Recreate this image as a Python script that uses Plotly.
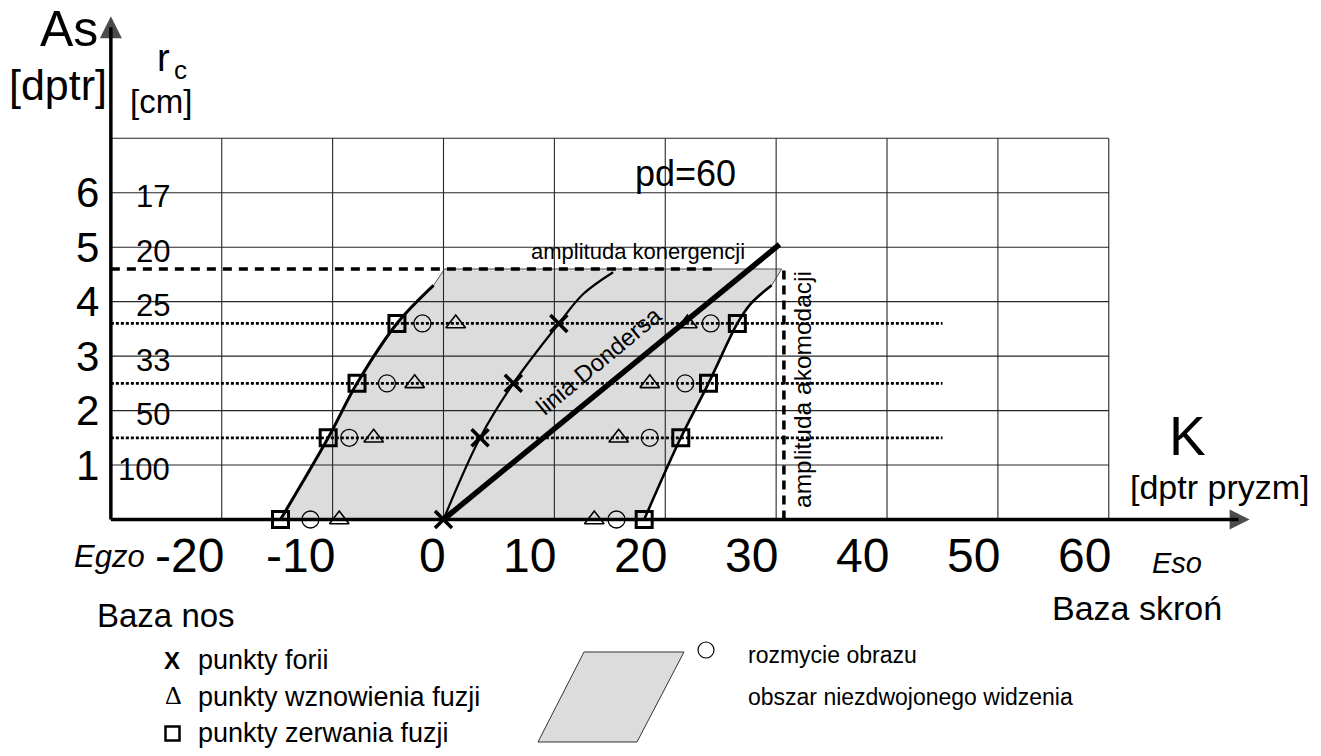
import plotly.graph_objects as go

W, H = 1321, 756
REG = "Liberation Sans, Arial, sans-serif"
SERIF = "Liberation Serif, Times New Roman, serif"

# ---------------- data ----------------
k_ticks = [-20, -10, 0, 10, 20, 30, 40, 50, 60]          # K [dptr pryzm]
as_ticks = [1, 2, 3, 4, 5, 6]                             # As [dptr]
rc_ticks = ["100", "50", "33", "25", "20", "17"]          # r_c [cm]

as_rows = [0, 1.5, 2.5, 3.6]                              # measured accommodation levels
phoria_k = [0, 3.3, 6.3, 10.4]                            # punkty forii
bi_recovery_k = [-9.4, -6.3, -2.6, 1.1]                   # wznowienie fuzji (baza nos)
bi_blur_k = [-12.0, -8.5, -5.1, -1.9]                     # rozmycie (baza nos)
bi_break_k = [-14.7, -10.4, -7.8, -4.2]                   # zerwanie fuzji (baza nos)
bo_recovery_k = [13.6, 15.8, 18.6, 22.0]                  # wznowienie fuzji (baza skron)
bo_blur_k = [15.6, 18.6, 21.8, 24.1]                      # rozmycie (baza skron)
bo_break_k = [18.1, 21.4, 23.9, 26.5]                     # zerwanie fuzji (baza skron)

# curve continuations above the highest measured level
bi_ext_k, bi_ext_as = [-0.9], [4.3]
phoria_ext_k, phoria_ext_as = [12.6, 15.3], [4.14, 4.54]
bo_ext_k, bo_ext_as = [27.7, 29.6], [3.96, 4.3]

amp_accommodation = 4.6        # amplituda akomodacji [dptr]
amp_convergence = 30.7         # amplituda konwergencji [dptr pryzm]
zone_top_k = [0.1, 30.5]
donders_k = [0, 30.3]          # linia Dondersa, pd = 60
donders_as = [0, 5.05]

# ---------------- scales ----------------
PX_PER_K, K0_PX = 11.088, 443.5
PX_PER_AS, AS0_PX = 54.46, 519.5
x_range = [-K0_PX / PX_PER_K, (W - K0_PX) / PX_PER_K]
y_range = [-(H - AS0_PX) / PX_PER_AS, AS0_PX / PX_PER_AS]
K_LEFT, K_RIGHT, AS_TOP = -30, 60, 7
K_ARROW, AS_ARROW = 72.7, 9.24

fig = go.Figure()

# binocular single vision zone
zx = bi_break_k + bi_ext_k + zone_top_k + bo_ext_k[::-1] + bo_break_k[::-1]
zy = as_rows + bi_ext_as + [amp_accommodation] * 2 + bo_ext_as[::-1] + as_rows[::-1]
fig.add_trace(go.Scatter(x=zx, y=zy, fill="toself", fillcolor="#dcdcdc", mode="lines",
                         line=dict(color="#555555", width=1)))

# grid
gx, gy = [], []
for k in k_ticks:
    gx += [k, k, None]
    gy += [0, AS_TOP, None]
for a in as_ticks + [AS_TOP]:
    gx += [K_LEFT, K_RIGHT, None]
    gy += [a, a, None]
fig.add_trace(go.Scatter(x=gx, y=gy, mode="lines", line=dict(color="#262626", width=1.1)))

# dotted measurement rows
dx, dy = [], []
for a in as_rows[1:]:
    dx += [K_LEFT, 45, None]
    dy += [a, a, None]
fig.add_trace(go.Scatter(x=dx, y=dy, mode="lines",
                         line=dict(color="black", width=2.8, dash="3px,2px")))

# amplitude of accommodation / convergence
fig.add_trace(go.Scatter(x=[K_LEFT, 24.7], y=[amp_accommodation] * 2, mode="lines",
                         line=dict(color="black", width=3.5, dash="9px,7px")))
fig.add_trace(go.Scatter(x=[amp_convergence] * 2, y=[0, amp_accommodation - 0.03], mode="lines",
                         line=dict(color="black", width=3.5, dash="9px,6px")))

# fusion-limit and phoria curves
fig.add_trace(go.Scatter(x=bi_break_k + bi_ext_k, y=as_rows + bi_ext_as, mode="lines",
                         line=dict(color="black", width=3, shape="spline")))
fig.add_trace(go.Scatter(x=phoria_k + phoria_ext_k, y=as_rows + phoria_ext_as, mode="lines",
                         line=dict(color="black", width=2.2, shape="spline")))
fig.add_trace(go.Scatter(x=bo_break_k + bo_ext_k, y=as_rows + bo_ext_as, mode="lines",
                         line=dict(color="black", width=2.6, shape="spline")))
fig.add_trace(go.Scatter(x=donders_k, y=donders_as, mode="lines",
                         line=dict(color="black", width=5.5)))

# axes: shafts stop short of the tips so the arrowheads stay pointed
fig.add_trace(go.Scatter(x=[K_LEFT, K_LEFT, None, K_LEFT, K_ARROW - 1.0],
                         y=[0, AS_ARROW - 0.2, None, 0, 0], mode="lines",
                         line=dict(color="black", width=3.5)))
fig.add_trace(go.Scatter(x=[K_LEFT, K_ARROW], y=[AS_ARROW, 0], mode="markers", cliponaxis=False,
                         marker=dict(symbol=["arrow-up", "arrow-right"], size=[22, 20],
                                     color="black", line=dict(width=0))))


# measured points
def pts(xs, symbol, size, lw):
    fig.add_trace(go.Scatter(x=xs, y=as_rows, mode="markers", cliponaxis=False,
                             marker=dict(symbol=symbol, size=size, color="black",
                                         line=dict(color="black", width=lw))))


pts(bi_break_k, "square-open", 16, 3)
pts(bo_break_k, "square-open", 16, 3)
pts(bi_blur_k, "circle-open", 17, 1.3)
pts(bo_blur_k, "circle-open", 17, 1.3)
pts(bi_recovery_k, "triangle-up-open", 17, 1.6)
pts(bo_recovery_k, "triangle-up-open", 17, 1.6)
pts(phoria_k, "x-thin", 17, 3.6)

ann = []


def note(text, xpx, ypx, size, family=REG, xanchor="center", yanchor="middle", **kw):
    ann.append(dict(text=text, x=xpx / W, y=1 - ypx / H, xref="paper", yref="paper",
                    showarrow=False, xanchor=xanchor, yanchor=yanchor,
                    font=dict(family=family, size=size, color="black"), **kw))


# tick labels
for a in as_ticks:
    ann.append(dict(text=str(a), x=K_LEFT, y=a, xref="x", yref="y", showarrow=False,
                    xanchor="right", yanchor="middle", xshift=-10,
                    font=dict(family=REG, size=42, color="black")))
for a, r in zip(as_ticks, rc_ticks):
    ann.append(dict(text=r, x=K_LEFT, y=a, xref="x", yref="y", showarrow=False,
                    xanchor="right", yanchor="middle", xshift=61, yshift=-4,
                    font=dict(family=REG, size=31, color="black")))
for k in k_ticks:
    ann.append(dict(text=str(k), x=k, y=0, xref="x", yref="y", showarrow=False,
                    xanchor="right", yanchor="middle", xshift=4, yshift=-36,
                    font=dict(family=REG, size=48, color="black")))

# axis titles
note("As", 100, 29, 50, xanchor="right")
note("[dptr]", 58, 85, 43)
note("r", 172, 58, 38, xanchor="right")
note("c", 172, 70, 26, xanchor="left")
note("[cm]", 161, 102, 33)
note("K", 1187, 436, 55)
note("[dptr pryzm]", 1219, 487, 34)
note("<i>Egzo</i>", 109, 556, 31)
note("<i>Eso</i>", 1177, 563, 29)
note("Baza nos", 166, 615, 33)
note("Baza skroń", 1137, 608, 34)

# in-plot labels
note("pd=60", 685, 174, 36)
note("amplituda konergencji", 638, 251, 22)
note("amplituda akomodacji", 802, 390, 24.5, textangle=-90)
note("linia Dondersa", 599, 361, 24, textangle=-39.6)

# legend
note("<b>X</b>", 172, 660, 24)
note("Δ", 173, 695, 26, SERIF)
note("punkty forii", 196, 660, 27, xanchor="left")
note("punkty wznowienia fuzji", 196, 697, 27, xanchor="left")
note("punkty zerwania fuzji", 196, 733, 27, xanchor="left")
note("rozmycie obrazu", 746, 655, 23, xanchor="left")
note("obszar niezdwojonego widzenia", 746, 697, 23, xanchor="left")

shapes = [
    dict(type="rect", xref="paper", yref="paper", x0=165.5 / W, x1=179.5 / W,
         y0=1 - 740.5 / H, y1=1 - 726.5 / H, line=dict(color="black", width=2.5)),
    dict(type="circle", xref="paper", yref="paper", x0=698 / W, x1=714 / W,
         y0=1 - 658 / H, y1=1 - 642 / H, line=dict(color="black", width=1.2)),
    dict(type="path", xref="paper", yref="paper",
         path="M {:.5f},{:.5f} L {:.5f},{:.5f} L {:.5f},{:.5f} L {:.5f},{:.5f} Z".format(
             538 / W, 1 - 742 / H, 584 / W, 1 - 652 / H, 684 / W, 1 - 652 / H, 637 / W, 1 - 742 / H),
         fillcolor="#dcdcdc", line=dict(color="#333333", width=1)),
]

fig.update_layout(
    width=W, height=H, margin=dict(l=0, r=0, t=0, b=0),
    paper_bgcolor="white", plot_bgcolor="white", showlegend=False,
    xaxis=dict(range=x_range, visible=False, fixedrange=True),
    yaxis=dict(range=y_range, visible=False, fixedrange=True),
    annotations=ann, shapes=shapes, hovermode=False,
)

fig.write_html("out.html")
